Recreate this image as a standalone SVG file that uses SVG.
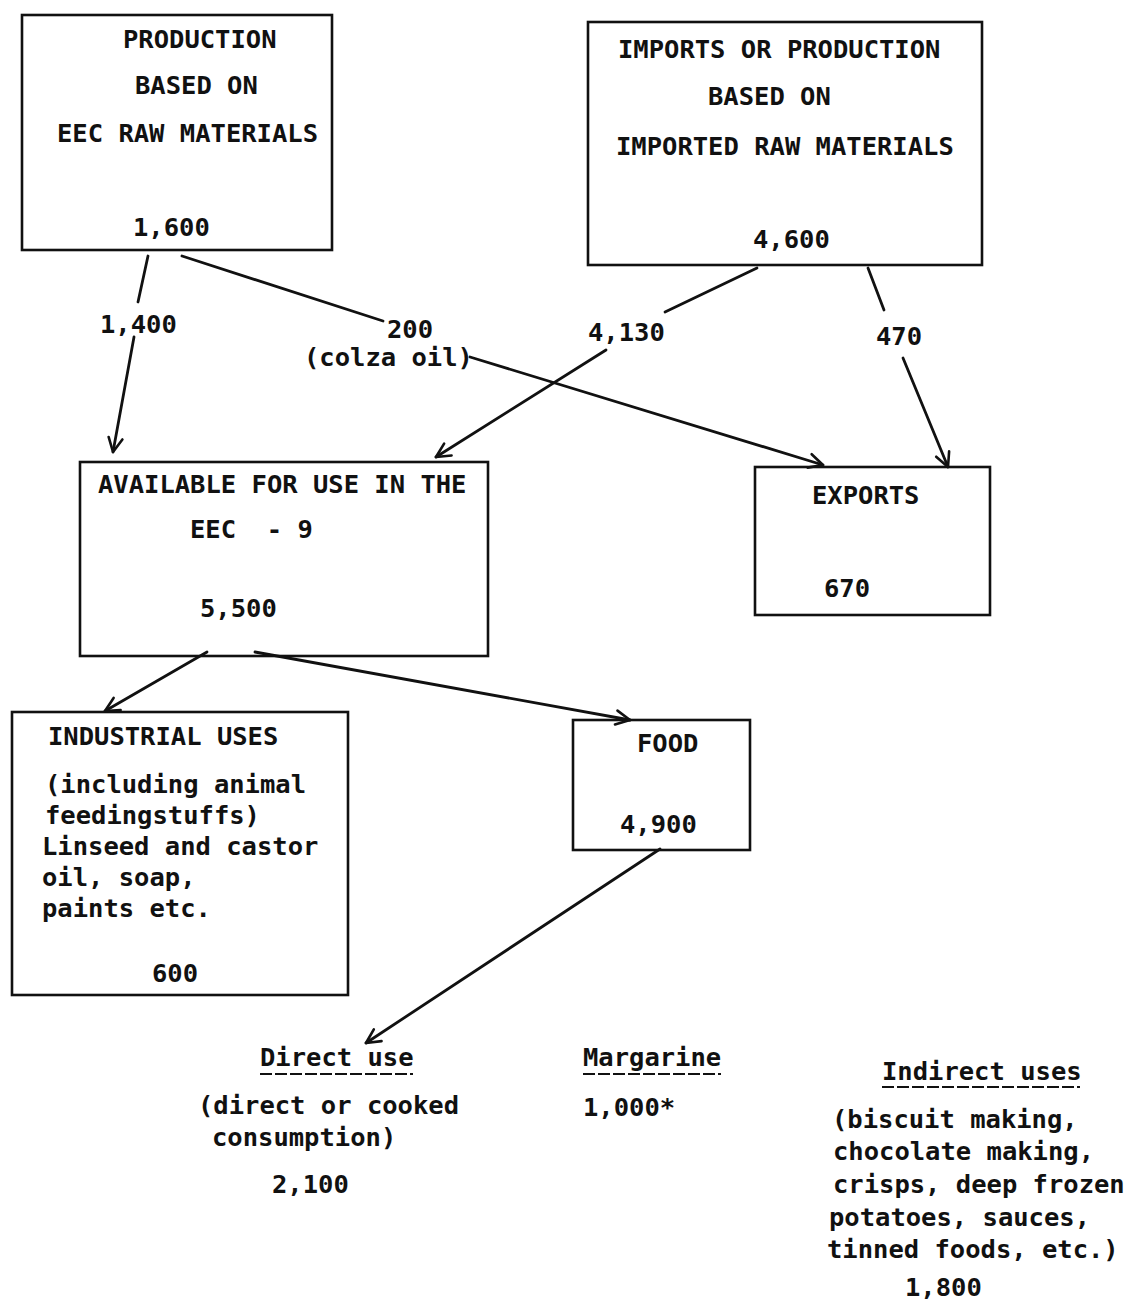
<svg xmlns="http://www.w3.org/2000/svg" width="1130" height="1303" viewBox="0 0 1130 1303">
<defs>
<marker id="arr" viewBox="-16 -10 18 20" refX="0" refY="0" markerWidth="18" markerHeight="20" markerUnits="userSpaceOnUse" orient="auto">
<path d="M-14,-7 L0,0 L-14,7" fill="none" stroke="#111" stroke-width="2.6" stroke-linecap="round" stroke-linejoin="round"/>
</marker>
<style>
.box{fill:none;stroke:#111;stroke-width:2.6}
.t{font-family:"DejaVu Sans Mono","Liberation Mono",monospace;font-size:25.5px;font-weight:bold;fill:#111}
.c{fill:none;stroke:#111;stroke-width:2.8;stroke-linecap:round}
.u{stroke:#111;stroke-width:2.2;stroke-dasharray:12 3}
</style>
</defs>
<rect width="1130" height="1303" fill="#fff"/>

<g id="node-eec-production">
<rect class="box" x="22" y="15" width="310" height="235"/>
<text class="t" x="123" y="48">PRODUCTION</text>
<text class="t" x="135" y="94">BASED ON</text>
<text class="t" x="57" y="142">EEC RAW MATERIALS</text>
<text class="t" x="133" y="236">1,600</text>
</g>

<g id="node-imports">
<rect class="box" x="588" y="22" width="394" height="243"/>
<text class="t" x="618" y="58">IMPORTS OR PRODUCTION</text>
<text class="t" x="708" y="105">BASED ON</text>
<text class="t" x="616" y="155">IMPORTED RAW MATERIALS</text>
<text class="t" x="753" y="248">4,600</text>
</g>

<g id="node-available">
<rect class="box" x="80" y="462" width="408" height="194"/>
<text class="t" x="98" y="493">AVAILABLE FOR USE IN THE</text>
<text class="t" x="190" y="538" xml:space="preserve">EEC  - 9</text>
<text class="t" x="200" y="617">5,500</text>
</g>

<g id="node-exports">
<rect class="box" x="755" y="467" width="235" height="148"/>
<text class="t" x="812" y="504">EXPORTS</text>
<text class="t" x="824" y="597">670</text>
</g>

<g id="node-industrial">
<rect class="box" x="12" y="712" width="336" height="283"/>
<text class="t" x="48" y="745">INDUSTRIAL USES</text>
<text class="t" x="45" y="793">(including animal</text>
<text class="t" x="45" y="824">feedingstuffs)</text>
<text class="t" x="42" y="855">Linseed and castor</text>
<text class="t" x="42" y="886">oil, soap,</text>
<text class="t" x="42" y="917">paints etc.</text>
<text class="t" x="152" y="982">600</text>
</g>

<g id="node-food">
<rect class="box" x="573" y="720" width="177" height="130"/>
<text class="t" x="637" y="752">FOOD</text>
<text class="t" x="620" y="833">4,900</text>
</g>

<g id="node-direct-use">
<text class="t" x="260" y="1066">Direct use</text>
<line class="u" x1="260" y1="1074" x2="413" y2="1074"/>
<text class="t" x="198" y="1114">(direct or cooked</text>
<text class="t" x="212" y="1146">consumption)</text>
<text class="t" x="272" y="1193">2,100</text>
</g>

<g id="node-margarine">
<text class="t" x="583" y="1066">Margarine</text>
<line class="u" x1="583" y1="1074" x2="721" y2="1074"/>
<text class="t" x="583" y="1116">1,000*</text>
</g>

<g id="node-indirect-uses">
<text class="t" x="882" y="1080">Indirect uses</text>
<line class="u" x1="882" y1="1087" x2="1080" y2="1087"/>
<text class="t" x="832" y="1128">(biscuit making,</text>
<text class="t" x="833" y="1160">chocolate making,</text>
<text class="t" x="833" y="1193">crisps, deep frozen</text>
<text class="t" x="829" y="1226">potatoes, sauces,</text>
<text class="t" x="827" y="1258">tinned foods, etc.)</text>
<text class="t" x="905" y="1296">1,800</text>
</g>

<g id="connectors">
<line class="c" x1="148" y1="256" x2="138" y2="302"/>
<line class="c" x1="134" y1="337" x2="113" y2="452" marker-end="url(#arr)"/>
<text class="t" x="100" y="333">1,400</text>

<line class="c" x1="182" y1="256" x2="383" y2="321"/>
<line class="c" x1="470" y1="357" x2="823" y2="465" marker-end="url(#arr)"/>
<text class="t" x="387" y="338">200</text>
<text class="t" x="304" y="366">(colza oil)</text>

<line class="c" x1="757" y1="268" x2="665" y2="312"/>
<line class="c" x1="606" y1="350" x2="436" y2="457" marker-end="url(#arr)"/>
<text class="t" x="588" y="341">4,130</text>

<line class="c" x1="868" y1="268" x2="884" y2="310"/>
<line class="c" x1="903" y1="358" x2="948" y2="467" marker-end="url(#arr)"/>
<text class="t" x="876" y="345">470</text>

<line class="c" x1="207" y1="652" x2="105" y2="711" marker-end="url(#arr)"/>
<line class="c" x1="255" y1="652" x2="630" y2="720" marker-end="url(#arr)"/>
<line class="c" x1="660" y1="849" x2="366" y2="1043" marker-end="url(#arr)"/>
</g>
</svg>
